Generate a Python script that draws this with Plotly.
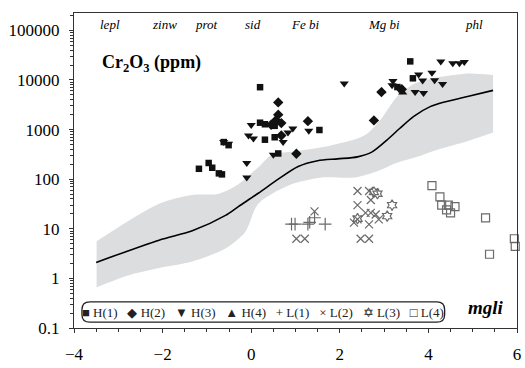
import plotly.graph_objects as go

# ---------------- data ----------------
H1_x = [0.20, 0.31, 0.20, 0.53, 0.31, 0.53, -0.62, -0.51, -0.96, -0.88, -1.18, -0.73, -0.66, 1.54, 3.59, 3.65, 0.61, 3.30]
H1_y = [7150, 1280, 1375, 1190, 625, 700, 560, 485, 212, 170, 162, 131, 125, 980, 23700, 10800, 330, 7200]

H2_x = [0.61, 0.61, 0.56, 0.68, 0.68, 1.02, 1.28, 2.77, 2.94, 3.40, 0.45]
H2_y = [3530, 2000, 1550, 1350, 760, 325, 1480, 1530, 5700, 6500, 1250]

H3_x = [0.0, 0.94, 0.83, -0.06, 0.05, 0.72, -0.51, 0.50, -0.10, -0.10, 1.30, 2.10, 4.28, 4.55, 4.70,
        4.81, 3.78, 4.08, 3.87, 4.14, 4.32, 3.70, 3.89, 3.20, 3.18, 3.34, -0.62]
H3_y = [1230, 1050, 870, 760, 660, 560, 520, 310, 213, 108, 950, 8500, 23700, 21800, 21800,
        23000, 12900, 14000, 9800, 9900, 8300, 5700, 5450, 9550, 7800, 6500, 560]

H4_x = [2.95, 3.42]
H4_y = [5900, 5600]

L1_x = [0.91, 0.99, 1.28, 1.43, 1.67, 1.32]
L1_y = [12.4, 12.4, 12.4, 16.7, 12.4, 13.5]

L2_x = [1.43, 1.02, 1.21, 2.40, 2.66, 2.40, 2.70, 2.58, 2.70, 2.81, 2.88, 2.32, 2.40, 2.66, 2.47, 2.66]
L2_y = [22.5, 6.3, 6.3, 57.8, 57.8, 30, 38, 21, 21, 19.4, 15.5, 13.3, 15.5, 12.3, 6.3, 6.3]

L3_x = [2.85, 3.18, 3.07, 2.40, 2.77]
L3_y = [51, 30, 18, 16, 55]

L4_x = [4.08, 4.26, 4.30, 4.45, 4.60, 4.41, 4.50, 5.29, 5.38, 5.94, 5.96]
L4_y = [74, 44, 30, 30, 28, 24, 21, 16.6, 3.07, 6.3, 4.4]

curve_x = [-3.5, -2.08, -1.33, -0.58, -0.29, 0.16, 0.61, 1.06, 1.50, 1.95, 2.40, 2.73, 3.07, 3.35, 3.67, 4.04, 4.34, 4.86, 5.46]
curve_y = [2.1, 5.9, 9.1, 18.6, 28, 52, 100, 180, 235, 257, 282, 355, 620, 1050, 1850, 2900, 3550, 4570, 6170]

band_up_x = [-3.49, -2.08, -1.33, -0.73, -0.29, 0.16, 0.46, 1.06, 1.80, 2.55, 2.92, 3.29, 3.67, 4.04, 4.41, 4.93, 5.46]
band_up_y = [5.6, 32, 48, 51, 79, 174, 309, 372, 479, 759, 1585, 4570, 8300, 10500, 12000, 13500, 12600]
band_lo_x = [-3.49, -2.82, -2.08, -1.33, -0.58, -0.14, 0.16, 0.83, 1.58, 2.32, 2.85, 3.29, 3.74, 4.19, 4.86, 5.46]
band_lo_y = [0.66, 1.12, 1.62, 2.2, 4.0, 8.5, 32, 74, 108, 108, 145, 214, 282, 389, 575, 870]

zone_names = ["lepl", "zinw", "prot", "sid", "Fe bi", "Mg bi", "phl"]
zone_label_x = [-3.19, -1.96, -1.02, 0.05, 1.21, 3.0, 5.04]
zone_bounds = [-2.39, -1.43, -0.44, 0.56, 1.97, 3.96]

y_ticks = [0.1, 1, 10, 100, 1000, 10000, 100000]
y_ticktext = ["0.1", "1", "10", "100", "1000", "10000", "100000"]
x_ticks = [-4, -2, 0, 2, 4, 6]

series_names = ["H(1)", "H(2)", "H(3)", "H(4)", "L(1)", "L(2)", "L(3)", "L(4)"]
legend_glyphs = ["\u25a0", "\u25c6", "\u25bc", "\u25b2", "+", "\u00d7", "\u2721", "\u25a1"]

# ---------------- figure ----------------
SERIF = "Liberation Serif"
fig = go.Figure()

fig.add_trace(go.Scatter(x=band_lo_x, y=band_lo_y, mode="lines", line=dict(width=0, shape="spline", smoothing=0.8),
                         hoverinfo="skip", showlegend=False))
fig.add_trace(go.Scatter(x=band_up_x, y=band_up_y, mode="lines", line=dict(width=0, shape="spline", smoothing=0.8),
                         fill="tonexty", fillcolor="#dcddde", hoverinfo="skip", showlegend=False))
fig.add_trace(go.Scatter(x=curve_x, y=curve_y, mode="lines",
                         line=dict(color="black", width=1.6, shape="spline", smoothing=0.8),
                         showlegend=False))

dark = "#111111"
gray = "#6a6a6a"
specs = [
    (H1_x, H1_y, "square", 6.5, dark, 0),
    (H2_x, H2_y, "diamond", 8, dark, 0),
    (H3_x, H3_y, "triangle-down", 8, dark, 0),
    (H4_x, H4_y, "triangle-up", 8, dark, 0),
    (L1_x, L1_y, "cross-thin", 9, gray, 1.2),
    (L2_x, L2_y, "x-thin", 8, gray, 1.2),
    (L3_x, L3_y, "hexagram-open", 8, gray, 1.2),
    (L4_x, L4_y, "square-open", 8, gray, 1.2),
]
for (xs, ys, sym, sz, col, lw), nm in zip(specs, series_names):
    fig.add_trace(go.Scatter(x=xs, y=ys, mode="markers", name=nm, cliponaxis=False,
                             marker=dict(symbol=sym, size=sz, color=col,
                                         line=dict(color=col, width=lw)),
                             showlegend=False))

# legend-like box
pl, pr, pt, pb = 74, 4, 13, 29
W, H = 525, 368
pw, ph = W - pl - pr, H - pt - pb
def px2paper(px, py):
    return (px - pl) / pw, (H - pb - py) / ph
x0, y0 = px2paper(82, 333)
x1, y1 = px2paper(448, 312)
rx, ry = 8 / pw, 8 / ph
path = (f"M {x0+rx},{y0} L {x1-rx},{y0} Q {x1},{y0} {x1},{y0+ry} L {x1},{y1-ry} Q {x1},{y1} {x1-rx},{y1} "
        f"L {x0+rx},{y1} Q {x0},{y1} {x0},{y1-ry} L {x0},{y0+ry} Q {x0},{y0} {x0+rx},{y0} Z")
fig.add_shape(type="path", path=path, xref="paper", yref="paper",
              line=dict(color="#222", width=1.3), fillcolor="white", layer="above")

sep = "\u00a0\u00a0\u00a0"
legend_text = sep.join(f"{g}\u00a0{n}" for g, n in zip(legend_glyphs, series_names))
lx, ly = px2paper(265, 322.5)
fig.add_annotation(x=lx, y=ly, xref="paper", yref="paper", text=legend_text, showarrow=False,
                   font=dict(family=SERIF, size=13, color="#222"), xanchor="center", yanchor="middle")

tx, ty = px2paper(100, 65)
fig.add_annotation(x=tx, y=ty, xref="paper", yref="paper",
                   text="<b>Cr<sub>2</sub>O<sub>3</sub> (ppm)</b>", showarrow=False,
                   font=dict(family=SERIF, size=18, color="black"), xanchor="left", yanchor="middle")
mx, my = px2paper(490, 318)
fig.add_annotation(x=mx, y=my, xref="paper", yref="paper", text="<b><i>mgli</i></b>", showarrow=False,
                   font=dict(family=SERIF, size=19, color="black"), xanchor="center", yanchor="middle")

_, zy = px2paper(0, 25)
for nm, zx in zip(zone_names, zone_label_x):
    fig.add_annotation(x=zx, y=zy, xref="x", yref="paper", text=f"<i>{nm}</i>", showarrow=False,
                       font=dict(family=SERIF, size=13, color="black"), xanchor="center", yanchor="middle")

yr = [-1, 5.35]
xr = [-4, 6]
fig.update_layout(
    width=W, height=H, margin=dict(l=pl, r=pr, t=pt, b=pb),
    paper_bgcolor="white", plot_bgcolor="white", showlegend=False,
    font=dict(family=SERIF, size=17, color="black"),
    xaxis=dict(range=xr, tickvals=x_ticks, ticks="outside", ticklen=4, tickcolor="#333",
               showline=True, linecolor="#333", linewidth=1.3, mirror=True, showgrid=False, zeroline=False,
               minor=dict(dtick=0.5, ticks="outside", ticklen=3, tickcolor="#333"),
               tickfont=dict(family=SERIF, size=17), ticklabelstandoff=6),
    yaxis=dict(type="log", range=yr, tickvals=y_ticks, ticktext=y_ticktext, ticks="outside", ticklen=4,
               tickcolor="#333", showline=True, linecolor="#333", linewidth=1.3, mirror=True,
               showgrid=False, zeroline=False,
               minor=dict(dtick="D1", ticks="outside", ticklen=3, tickcolor="#333"),
               tickfont=dict(family=SERIF, size=17), ticklabelstandoff=6),
    xaxis2=dict(range=xr, overlaying="x", anchor="y", side="bottom", tickvals=x_ticks, ticks="inside",
                ticklen=4, tickcolor="#333", showticklabels=False, showgrid=False, zeroline=False,
                minor=dict(dtick=0.5, ticks="inside", ticklen=3, tickcolor="#333")),
    yaxis2=dict(type="log", range=yr, overlaying="y", anchor="x", side="left", tickvals=y_ticks,
                ticks="inside", ticklen=4, tickcolor="#333", showticklabels=False, showgrid=False,
                zeroline=False, minor=dict(dtick="D1", ticks="inside", ticklen=3, tickcolor="#333")),
    xaxis3=dict(range=xr, overlaying="x", anchor="y", side="top", tickvals=zone_bounds, ticks="outside",
                ticklen=4, tickcolor="#333", showticklabels=False, showgrid=False, zeroline=False),
    xaxis4=dict(range=xr, overlaying="x", anchor="y", side="top", tickvals=zone_bounds, ticks="inside",
                ticklen=4, tickcolor="#333", showticklabels=False, showgrid=False, zeroline=False),
)

fig.write_html("out.html")
